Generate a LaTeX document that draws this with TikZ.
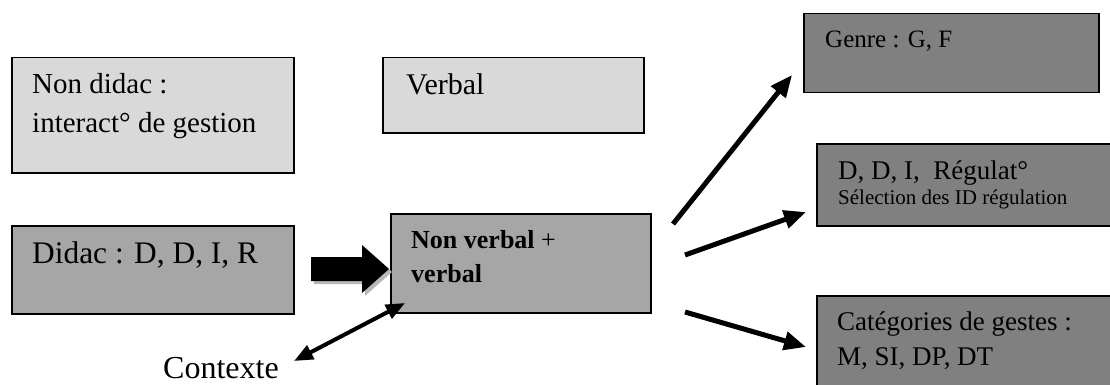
\documentclass[tikz,border=0pt]{standalone}
\usepackage{fontspec}
\setmainfont{Liberation Serif}
\usetikzlibrary{arrows.meta}
\definecolor{lgray}{HTML}{D9D9D9}
\definecolor{mgray}{HTML}{A6A6A6}
\definecolor{dgray}{HTML}{808080}
\definecolor{shgray}{HTML}{B8B8B8}
\tikzset{
  box/.style={draw=black, line width=1.5pt, rectangle, inner sep=0pt, anchor=north west},
  lightbox/.style={box, fill=lgray},
  midbox/.style={box, fill=mgray},
  darkbox/.style={box, fill=dgray},
  txt/.style={inner sep=0pt, anchor=base west, font=\fontsize{30}{36}\selectfont},
  ltxt/.style={txt, font=\fontsize{29}{34}\selectfont},
  dtxt/.style={txt, font=\fontsize{31.4}{37}\selectfont},
  rtxt/.style={txt, font=\fontsize{27}{32}\selectfont},
  gtxt/.style={txt, font=\fontsize{25}{30}\selectfont},
  btxt/.style={txt, font=\fontsize{26}{31}\selectfont\bfseries},
  stxt/.style={txt, font=\fontsize{21}{25}\selectfont},
  ctxt/.style={txt, font=\fontsize{32}{38}\selectfont},
  arr/.style={line width=5pt, -{Triangle[length=22pt, width=18pt]}},
  darr/.style={line width=4pt, {Triangle[length=19pt, width=15pt]}-{Triangle[length=19pt, width=15pt]}},
}
\begin{document}
\begin{tikzpicture}[x=1pt, y=-1pt]
\useasboundingbox (0,0) rectangle (1110,385);
% left boxes
\node (nd) [lightbox, minimum width=282pt, minimum height=115pt] at (11,57) {};
\node (nd1) [ltxt] at (32,94) {Non didac :};
\node (nd2) [ltxt] at (32,132) {interact° de gestion};
\node (vb) [lightbox, minimum width=261pt, minimum height=75pt] at (382,57) {};
\node (vb1) [txt] at (406,95) {Verbal};
\node (dd) [midbox, minimum width=282pt, minimum height=88pt] at (11,225) {};
\node (dd1) [dtxt] at (32,263) {Didac : D, D, I, R};
\node (nv) [midbox, minimum width=260pt, minimum height=99pt] at (390,213) {};
\node (nv1) [btxt] at (411,248) {Non verbal {\mdseries +}};
\node (nv2) [btxt] at (411,282) {verbal};
% right boxes
\node (ge) [darkbox, minimum width=295pt, minimum height=79pt] at (803,13) {};
\node (ge1) [gtxt] at (825,48) {Genre : G, F};
\node (rg) [darkbox, minimum width=300pt, minimum height=82pt] at (816,143) {};
\node (rg1) [rtxt] at (838,179) {D, D, I,\ \ Régulat°};
\node (rg2) [stxt] at (838,204) {Sélection des ID régulation};
\node (ca) [darkbox, minimum width=300pt, minimum height=100pt] at (816,295) {};
\node (ca1) [rtxt] at (837,330) {Catégories de gestes :};
\node (ca2) [rtxt] at (837,365) {M, SI, DP, DT};
% contexte
\node (ct) [ctxt] at (163,378) {Contexte};
% block arrow with shadow
\fill[shgray] (314,260) -- (365,260) -- (365,248) -- (392,272) -- (365,296) -- (365,284) -- (314,284) -- cycle;
\fill[black] (311,257) -- (362,257) -- (362,245) -- (389,269) -- (362,293) -- (362,281) -- (311,281) -- cycle;
% connectors
\coordinate (a1s) at (673,224);
\coordinate (a1e) at (792,75);
\coordinate (a2s) at (685,255);
\coordinate (a2e) at (806,212);
\coordinate (a3s) at (685,312);
\coordinate (a3e) at (806,347);
\coordinate (c1) at (294,361);
\coordinate (c2) at (405,303);
\draw[arr] (a1s) -- (a1e);
\draw[arr] (a2s) -- (a2e);
\draw[arr] (a3s) -- (a3e);
\draw[darr] (c1) -- (c2);
\end{tikzpicture}
\end{document}
